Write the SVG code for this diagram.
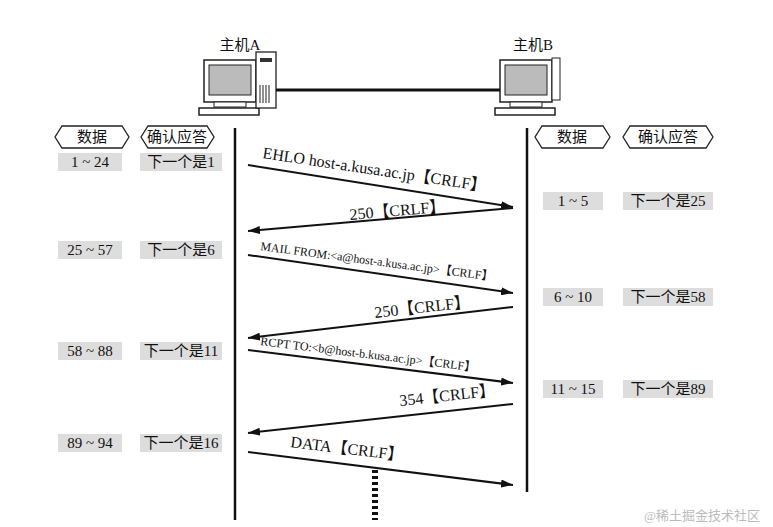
<svg xmlns="http://www.w3.org/2000/svg" width="773" height="527" viewBox="0 0 773 527">
<defs>
<marker id="ah" viewBox="0 0 12 8" refX="12" refY="4" markerWidth="12" markerHeight="8" markerUnits="userSpaceOnUse" orient="auto"><path d="M0,0 L12,4 L0,8 Z" fill="#111"/></marker>
<g id="pc">
<rect x="0" y="10" width="52" height="42" fill="#fff" stroke="#222" stroke-width="1.5"/>
<rect x="5" y="15" width="42" height="30" fill="#bbb" stroke="#222"/>
<rect x="10" y="52" width="32" height="5" fill="#fff" stroke="#222"/>
<rect x="-5" y="58" width="60" height="7" fill="#fff" stroke="#222" stroke-width="1.5"/>
</g>
</defs>
<style>
text{font-family:"Liberation Serif","Noto Sans CJK SC",serif;fill:#111}
.hex{fill:#fff;stroke:#222;stroke-width:1.3}
.box{fill:#ddd}
.lbl{font-size:15px;text-anchor:middle}
.msg{font-size:16px}
.sm{font-size:12px}
.arr{stroke:#111;stroke-width:2;fill:none;marker-end:url(#ah)}
.life{stroke:#111;stroke-width:2.5}
</style>
<rect width="773" height="527" fill="#fff"/>
<g id="hostA">
<text x="240" y="50" class="lbl">主机A</text>
<use href="#pc" x="204" y="50"/>
<rect x="256" y="52" width="20" height="56" fill="#fff" stroke="#222" stroke-width="1.3"/>
<rect x="260" y="58" width="12" height="4" fill="#333"/>
<path d="M260,85 v18 M263,85 v18 M266,85 v18 M269,85 v18" stroke="#222"/>
</g>
<g id="hostB">
<text x="533" y="50" class="lbl">主机B</text>
<use href="#pc" x="500" y="50"/>
<rect x="552" y="58" width="8" height="42" fill="#fff" stroke="#222"/>
</g>
<g id="link"><line x1="276" y1="90" x2="500" y2="90" stroke="#111" stroke-width="3"/></g>
<g id="lifelines">
<line x1="235" y1="128" x2="235" y2="520" class="life"/>
<line x1="527" y1="128" x2="527" y2="492" class="life"/>
<line x1="375" y1="470" x2="375" y2="520" stroke="#111" stroke-width="6" stroke-dasharray="3,3"/>
</g>
<g id="headers">
<path class="hex" d="M62,126 H122 L129,137 L122,148 H62 L55,137 Z"/><text x="92" y="142" class="lbl">数据</text>
<path class="hex" d="M148,126 H207 L214,137 L207,148 H148 L141,137 Z"/><text x="177" y="142" class="lbl">确认应答</text>
<path class="hex" d="M542,126 H603 L610,137 L603,148 H542 L535,137 Z"/><text x="572" y="142" class="lbl">数据</text>
<path class="hex" d="M630,126 H706 L713,137 L706,148 H630 L623,137 Z"/><text x="668" y="142" class="lbl">确认应答</text>
</g>
<g id="left-rows">
<rect class="box" x="58" y="153" width="64" height="18"/><text x="90" y="167" class="lbl">1 ~ 24</text>
<rect class="box" x="140" y="153" width="82" height="18"/><text x="181" y="167" class="lbl">下一个是1</text>
<rect class="box" x="58" y="241" width="64" height="18"/><text x="90" y="255" class="lbl">25 ~ 57</text>
<rect class="box" x="140" y="241" width="82" height="18"/><text x="181" y="255" class="lbl">下一个是6</text>
<rect class="box" x="58" y="342" width="64" height="18"/><text x="90" y="356" class="lbl">58 ~ 88</text>
<rect class="box" x="140" y="342" width="82" height="18"/><text x="181" y="356" class="lbl">下一个是11</text>
<rect class="box" x="58" y="434" width="64" height="18"/><text x="90" y="448" class="lbl">89 ~ 94</text>
<rect class="box" x="140" y="434" width="82" height="18"/><text x="181" y="448" class="lbl">下一个是16</text>
</g>
<g id="right-rows">
<rect class="box" x="543" y="192" width="60" height="18"/><text x="573" y="206" class="lbl">1 ~ 5</text>
<rect class="box" x="623" y="192" width="90" height="18"/><text x="668" y="206" class="lbl">下一个是25</text>
<rect class="box" x="543" y="288" width="60" height="18"/><text x="573" y="302" class="lbl">6 ~ 10</text>
<rect class="box" x="623" y="288" width="90" height="18"/><text x="668" y="302" class="lbl">下一个是58</text>
<rect class="box" x="543" y="380" width="60" height="18"/><text x="573" y="394" class="lbl">11 ~ 15</text>
<rect class="box" x="623" y="380" width="90" height="18"/><text x="668" y="394" class="lbl">下一个是89</text>
</g>
<g id="connectors">
<line class="arr" x1="248" y1="165" x2="513" y2="207"/>
<line class="arr" x1="513" y1="208" x2="248" y2="231"/>
<line class="arr" x1="248" y1="255" x2="513" y2="293"/>
<line class="arr" x1="513" y1="307" x2="248" y2="338"/>
<line class="arr" x1="248" y1="350" x2="513" y2="383"/>
<line class="arr" x1="513" y1="404" x2="248" y2="433"/>
<line class="arr" x1="248" y1="452" x2="513" y2="485"/>
<text class="msg" transform="translate(262,158) rotate(8.5)">EHLO host-a.kusa.ac.jp【CRLF】</text>
<text class="msg" transform="translate(350,220) rotate(-5)">250【CRLF】</text>
<text class="sm" transform="translate(260,250) rotate(7.5)">MAIL FROM:&lt;a@host-a.kusa.ac.jp&gt;【CRLF】</text>
<text class="msg" transform="translate(375,318) rotate(-6.5)">250【CRLF】</text>
<text class="sm" transform="translate(260,345) rotate(7)">RCPT TO:&lt;b@host-b.kusa.ac.jp&gt;【CRLF】</text>
<text class="msg" transform="translate(400,406) rotate(-6.2)">354【CRLF】</text>
<text class="msg" transform="translate(290,447) rotate(7)">DATA【CRLF】</text>
</g>
<text x="760" y="520" font-size="13" text-anchor="end" style="fill:#bbb">@稀土掘金技术社区</text>
</svg>
